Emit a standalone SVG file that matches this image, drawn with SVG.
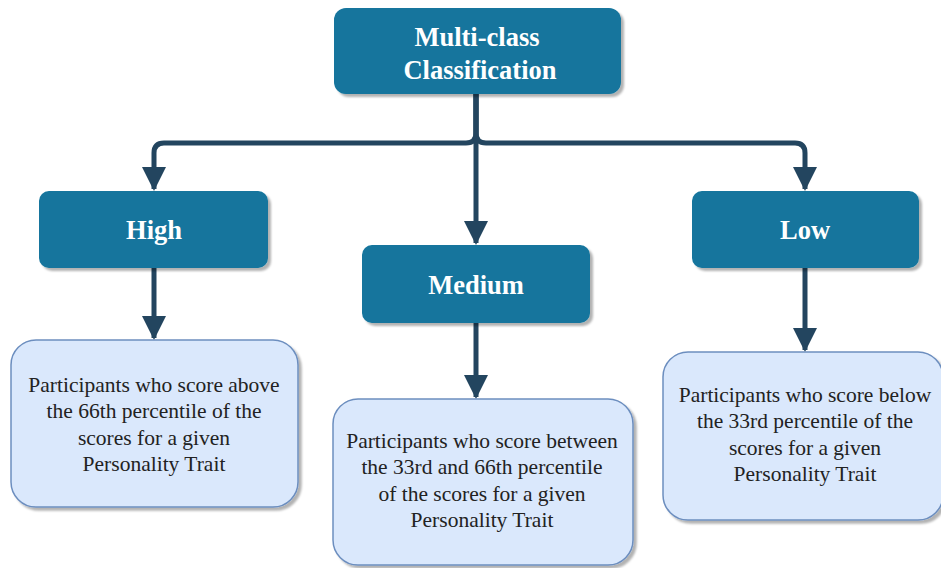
<svg xmlns="http://www.w3.org/2000/svg" width="941" height="568" viewBox="0 0 941 568">
  <defs>
    <marker id="head" viewBox="0 0 24 24" refX="22" refY="12" markerWidth="24" markerHeight="24" markerUnits="userSpaceOnUse" orient="auto">
      <path d="M0,0 L24,12 L0,24 Z" fill="#23455f"/>
    </marker>
    <filter id="shadow" x="-10%" y="-10%" width="130%" height="130%">
      <feOffset dx="3" dy="3" in="SourceAlpha" result="o"/>
      <feGaussianBlur in="o" stdDeviation="1" result="b"/>
      <feFlood flood-color="#000" flood-opacity="0.3"/>
      <feComposite in2="b" operator="in" result="s"/>
      <feMerge><feMergeNode in="s"/><feMergeNode in="SourceGraphic"/></feMerge>
    </filter>
  </defs>
  <style>
    text { font-family: 'Liberation Serif', 'DejaVu Serif', serif; text-anchor: middle; }
    .head { fill: #13759d; filter: url(#shadow); }
    .desc { fill: #dae8fc; stroke: #6c8ebf; stroke-width: 1.5; filter: url(#shadow); }
    .ht { font-weight: bold; font-size: 26.5px; fill: #ffffff; }
    .dt { font-size: 21.5px; fill: #222222; }
    .conn { fill: none; stroke: #23455f; stroke-width: 5; marker-end: url(#head); }
  </style>

  <g id="connectors">
    <path class="conn" d="M476,94 V133 Q476,143 466,143 H164 Q154,143 154,153 V189"/>
    <path class="conn" d="M476,94 V133 Q476,143 486,143 H795 Q805,143 805,153 V189"/>
    <path class="conn" d="M476,94 V243"/>
    <path class="conn" d="M154,268 V338"/>
    <path class="conn" d="M476,323 V397"/>
    <path class="conn" d="M805,268 V350"/>
  </g>

  <g id="root">
    <rect class="head" x="334" y="8" width="287" height="86" rx="12"/>
    <text class="ht" x="477" y="46">Multi-class</text>
    <text class="ht" x="480" y="79">Classification</text>
  </g>

  <g id="high">
    <rect class="head" x="39" y="191" width="229" height="77" rx="10"/>
    <text class="ht" x="154" y="239">High</text>
  </g>

  <g id="medium">
    <rect class="head" x="362" y="245" width="228" height="78" rx="10"/>
    <text class="ht" x="476" y="294">Medium</text>
  </g>

  <g id="low">
    <rect class="head" x="692" y="191" width="227" height="77" rx="10"/>
    <text class="ht" x="805" y="239">Low</text>
  </g>

  <g id="high-desc">
    <rect class="desc" x="11" y="340" width="287" height="167" rx="25"/>
    <text class="dt" x="154" y="392">Participants who score above</text>
    <text class="dt" x="154" y="418">the 66th percentile of the</text>
    <text class="dt" x="154" y="445">scores for a given</text>
    <text class="dt" x="154" y="471">Personality Trait</text>
  </g>

  <g id="medium-desc">
    <rect class="desc" x="333" y="399" width="300" height="166" rx="25"/>
    <text class="dt" x="482" y="448">Participants who score between</text>
    <text class="dt" x="482" y="474">the 33rd and 66th percentile</text>
    <text class="dt" x="482" y="501">of the scores for a given</text>
    <text class="dt" x="482" y="527">Personality Trait</text>
  </g>

  <g id="low-desc">
    <rect class="desc" x="663" y="352" width="280" height="168" rx="25"/>
    <text class="dt" x="805" y="402">Participants who score below</text>
    <text class="dt" x="805" y="428">the 33rd percentile of the</text>
    <text class="dt" x="805" y="455">scores for a given</text>
    <text class="dt" x="805" y="481">Personality Trait</text>
  </g>
</svg>
